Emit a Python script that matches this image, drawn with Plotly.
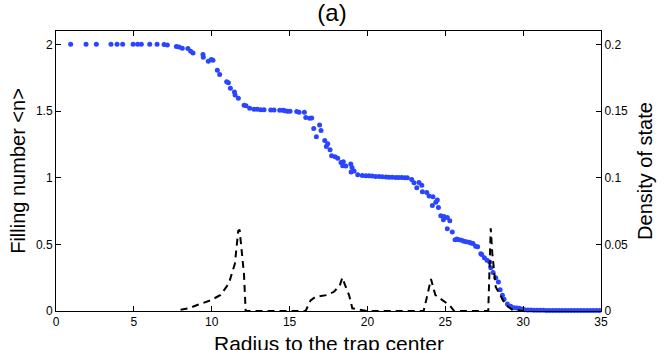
import plotly.graph_objects as go

# Filling number <n> vs radius (left axis)
r_fill = [0.94, 1.93, 2.59, 3.53, 3.92, 4.28, 4.95, 5.24, 5.48, 6.02, 6.49, 6.94, 7.15, 7.73, 7.9,
          8.11, 8.47, 8.65, 8.8, 9.44, 9.46, 9.78, 9.97, 10.08, 10.36, 10.51, 10.96, 11.07, 11.2,
          11.46, 11.5, 11.71, 12.08, 12.2, 12.44, 12.72, 12.93, 13.15, 13.36, 13.79, 14.0, 14.37,
          14.58, 14.71, 14.86, 15.03, 15.46, 15.61, 15.95, 16.04, 16.29, 16.42, 16.55, 16.72, 16.93,
          17.02, 17.26, 17.36, 17.45, 17.6, 17.7, 17.92, 18.09, 18.3, 18.41, 18.45, 18.61, 18.93,
          18.95, 19.01, 19.14, 19.38, 19.67, 19.9, 20.1, 20.3, 20.53, 20.75, 20.96, 21.2, 21.39,
          21.6, 21.82, 22.0, 22.2, 22.4, 22.56, 22.84, 22.99, 23.17, 23.31, 23.49, 23.53, 23.81,
          23.96, 24.17, 24.21, 24.39, 24.49, 24.56, 24.71, 24.88, 24.92, 25.13, 25.13, 25.29, 25.45,
          25.63, 25.75, 25.88, 26.05, 26.2, 26.35, 26.53, 26.65, 26.78, 26.95, 27.08, 27.28, 27.34,
          27.51, 27.68, 27.85, 27.92, 28.07, 28.24, 28.41, 28.52, 28.67, 28.77, 28.99, 29.2, 29.42,
          29.6, 29.74, 29.9, 30.1, 30.3, 30.5, 30.7, 30.9, 31.1, 31.3, 31.5, 31.7, 31.9, 32.1, 32.3,
          32.5, 32.7, 32.9, 33.1, 33.3, 33.5, 33.7, 33.9, 34.1, 34.3, 34.5, 34.7, 34.9]
n_fill = [2.0, 2.0, 2.0, 2.0, 2.0, 2.0, 2.0, 2.0, 2.0, 2.0, 2.0, 1.998, 1.995, 1.983, 1.98,
          1.97, 1.968, 1.948, 1.935, 1.923, 1.903, 1.874, 1.886, 1.88, 1.806, 1.774, 1.72, 1.711, 1.67,
          1.643, 1.62, 1.596, 1.543, 1.54, 1.52, 1.514, 1.514, 1.509, 1.509, 1.508, 1.508, 1.506,
          1.506, 1.502, 1.499, 1.499, 1.497, 1.49, 1.49, 1.452, 1.445, 1.447, 1.368, 1.306, 1.395,
          1.353, 1.279, 1.234, 1.254, 1.21, 1.165, 1.156, 1.145, 1.113, 1.09, 1.12, 1.088, 1.103,
          1.043, 1.076, 1.05, 1.021, 1.016, 1.015, 1.014, 1.012, 1.009, 1.008, 1.006, 1.005, 1.004,
          1.003, 1.002, 1.001, 1.001, 1.0, 1.0, 0.987, 0.961, 0.925, 0.964, 0.944, 0.895, 0.888,
          0.862, 0.791, 0.857, 0.816, 0.833, 0.776, 0.714, 0.684, 0.709, 0.701, 0.617, 0.677, 0.592,
          0.535, 0.54, 0.535, 0.53, 0.523, 0.52, 0.515, 0.51, 0.506, 0.486, 0.481, 0.429, 0.424,
          0.399, 0.381, 0.367, 0.325, 0.288, 0.25, 0.218, 0.159, 0.119, 0.089, 0.052, 0.035, 0.025,
          0.022, 0.02, 0.015, 0.01, 0.008, 0.007, 0.006, 0.005, 0.005, 0.005, 0.004, 0.004, 0.004,
          0.004, 0.003, 0.003, 0.003, 0.003, 0.003, 0.003, 0.003, 0.003, 0.003, 0.003, 0.003, 0.003,
          0.003, 0.003, 0.003]

# Density of state vs radius (right axis)
r_dos = [8.0, 8.54, 9.07, 9.93, 10.57, 11.1, 11.49, 11.7, 11.79, 11.96, 12.07, 12.18, 13.0, 14.0,
         15.0, 16.03, 16.35, 16.67, 17.42, 17.85, 18.22, 18.39, 18.61, 18.82, 19.03, 20.0, 21.0,
         22.0, 23.0, 23.61, 23.81, 24.08, 24.36, 24.9, 25.3, 25.57, 26.5, 27.76, 27.92, 28.02,
         28.24, 28.45, 28.67, 28.88, 29.3, 30.0]
dos = [0.001, 0.002, 0.0045, 0.008, 0.012, 0.0207, 0.0356, 0.06, 0.061, 0.043, 0.028, 0.0, 0.0, 0.0,
       0.0, 0.0, 0.008, 0.0107, 0.012, 0.0144, 0.019, 0.025, 0.018, 0.012, 0.002, 0.0, 0.0,
       0.0, 0.0, 0.0, 0.010, 0.024, 0.012, 0.0075, 0.004, 0.0, 0.0, 0.0, 0.062, 0.043,
       0.018, 0.0134, 0.0097, 0.0045, 0.001, 0.0]

x_ticks = [0, 5, 10, 15, 20, 25, 30, 35]
y_ticks = [0, 0.5, 1, 1.5, 2]
y2_ticks = [0, 0.05, 0.1, 0.15, 0.2]

font_main = 'Liberation Sans, Arial, sans-serif'

fig = go.Figure()

fig.add_trace(go.Scatter(
    x=r_fill, y=n_fill, mode='markers',
    marker=dict(size=5, color='#2a45ff'),
    cliponaxis=False,
    showlegend=False))

fig.add_trace(go.Scatter(
    x=r_dos, y=dos, mode='lines', yaxis='y2',
    line=dict(color='black', width=2, dash='7px,5px'),
    showlegend=False))

axis_common = dict(showline=True, linecolor='black', linewidth=1, ticks='inside',
                   ticklen=5, tickcolor='black', showgrid=False, zeroline=False,
                   automargin=False,
                   tickfont=dict(size=12, color='black', family=font_main))

fig.update_layout(
    width=664, height=350,
    margin=dict(l=56, r=63, t=31, b=39),
    paper_bgcolor='white', plot_bgcolor='white',
    font=dict(family=font_main, color='black'),
    title=dict(text='(a)', x=0.5, xanchor='center', y=0.965, yanchor='middle',
               font=dict(size=24, color='black', family=font_main)),
    xaxis=dict(range=[0, 35], tickvals=x_ticks, mirror='ticks', **axis_common),
    yaxis=dict(range=[0, 2.1], tickvals=y_ticks, ticktext=['0', '0.5', '1', '1.5', '2'],
               title=dict(text='Filling number <n>', standoff=4,
                          font=dict(size=20, family=font_main)),
               **axis_common),
    yaxis2=dict(range=[0, 0.21], tickvals=y2_ticks,
                ticktext=['0', '0.05', '0.1', '0.15', '0.2'],
                overlaying='y', side='right',
                title=dict(text='Density of state', standoff=10,
                           font=dict(size=20, family=font_main)),
                **axis_common),
)

# x title as an annotation so it can sit below the tick labels like the original
fig.add_annotation(text='Radius to the trap center', xref='paper', yref='paper',
                   x=0.5, y=0, xanchor='center', yanchor='top', yshift=-19,
                   showarrow=False, font=dict(size=21, family=font_main, color='black'))

# the page body has a default 8px margin; drop it so the figure sits at the window corner
fig.write_html("out.html", config={'displayModeBar': False},
               post_script="document.body.style.margin='0';")
